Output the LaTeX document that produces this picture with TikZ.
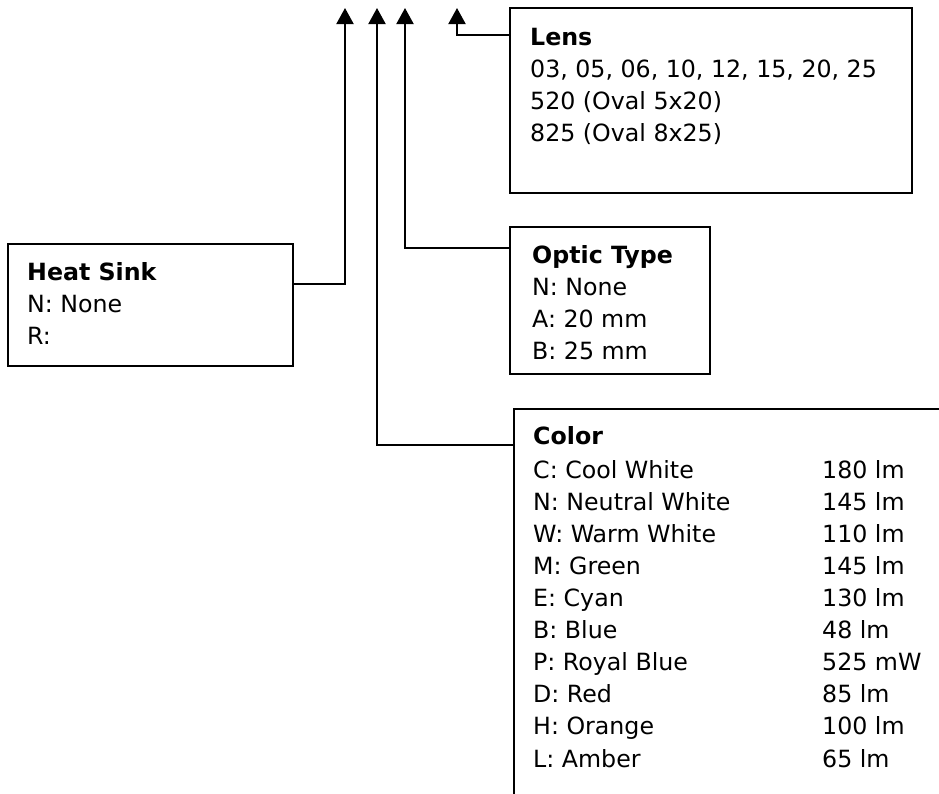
\documentclass[tikz,border=0pt]{standalone}
\usepackage{fontspec}
\setmainfont{DejaVu Sans}
\usetikzlibrary{arrows.meta}

\begin{document}
\begin{tikzpicture}[x=1pt, y=-1pt,
   box/.style={draw, line width=2pt, inner sep=0pt, anchor=north west},
   txt/.style={anchor=base west, inner sep=0pt, font=\fontsize{23.7}{32.1}\selectfont},
   arr/.style={line width=2pt, -{Triangle[width=17pt,length=16pt]}}]%
   \clip (0,0) rectangle (939,793);
   % boxes
   \node[box, minimum width=402pt, minimum height=185pt] (lens) at (509,7) {};
   \node[box, minimum width=285pt, minimum height=122pt] (heat) at (7,243) {};
   \node[box, minimum width=200pt, minimum height=147pt] (optic) at (509,226) {};
   \node[box, minimum width=470pt, minimum height=430pt] (color) at (513,408) {};
   % texts
   \node[txt] (lenstext) at ([shift={(21,38)}]lens.north west)
      {\begin{tabular}[t]{@{}l@{}}\textbf{Lens}\\03, 05, 06, 10, 12, 15, 20, 25\\520 (Oval 5x20)\\825 (Oval 8x25)\end{tabular}};
   \node[txt] (heattext) at ([shift={(20,37)}]heat.north west)
      {\begin{tabular}[t]{@{}l@{}}\textbf{Heat Sink}\\N: None\\R:\end{tabular}};
   \node[txt] (optictext) at ([shift={(23,37)}]optic.north west)
      {\begin{tabular}[t]{@{}l@{}}\textbf{Optic Type}\\N: None\\A: 20 mm\\B: 25 mm\end{tabular}};
   \node[txt] (colortext) at ([shift={(20,36)}]color.north west)
      {\begin{tabular}[t]{@{}p{289pt}@{}l@{}}\textbf{Color} & \\[2pt]
       C: Cool White & 180 lm\\
       N: Neutral White & 145 lm\\
       W:\ Warm White & 110 lm\\
       M:\ Green & 145 lm\\
       E: Cyan & 130 lm\\
       B: Blue & 48 lm\\
       P: Royal Blue & 525 mW\\
       D:\ Red & 85 lm\\
       H: Orange & 100 lm\\
       L: Amber & 65 lm\end{tabular}};
   % arrow tips
   \coordinate (sinktip) at (345,8);
   \coordinate (colortip) at (377,8);
   \coordinate (optictip) at (405,8);
   \coordinate (lenstip) at (457,8);
   % connectors
   \draw[arr] ([yshift=-41pt]heat.north east) -| (sinktip);
   \draw[arr] ([yshift=-37pt]color.north west) -| (colortip);
   \draw[arr] ([yshift=-22pt]optic.north west) -| (optictip);
   \draw[arr] ([yshift=-28pt]lens.north west) -| (lenstip);
\end{tikzpicture}
\end{document}
